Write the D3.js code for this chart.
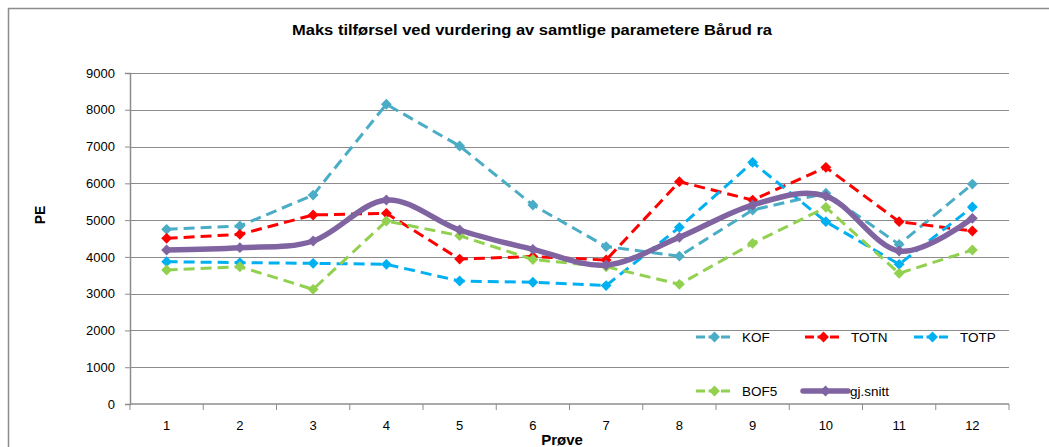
<!DOCTYPE html>
<html>
<head>
<meta charset="utf-8">
<script src="https://cdn.jsdelivr.net/npm/d3@7"></script>
<style>
  body { margin: 0; background: #fff; }
  svg { display: block; }
</style>
</head>
<body>
<div id="chart"></div>
<script>
// data
const categories = ["1","2","3","4","5","6","7","8","9","10","11","12"];
const kof   = [4750, 4840, 5680, 8150, 7015, 5410, 4280, 4020, 5275, 5730, 4340, 5980];
const totn  = [4505, 4613, 5140, 5185, 3940, 4010, 3915, 6045, 5545, 6435, 4957, 4705];
const totp  = [3870, 3843, 3825, 3798, 3344, 3310, 3220, 4803, 6570, 4957, 3798, 5357];
const bof5  = [3643, 3733, 3118, 4975, 4577, 3930, 3733, 3254, 4368, 5347, 3553, 4187];
const snitt = [4187, 4250, 4432, 5547, 4731, 4205, 3779, 4532, 5410, 5655, 4160, 5049];
const yTicks = [0, 1000, 2000, 3000, 4000, 5000, 6000, 7000, 8000, 9000];

const series = [
  { name: "KOF",      values: kof,   color: "#4BACC6", dash: "11,6", width: 3,   smooth: false },
  { name: "TOTN",     values: totn,  color: "#FF0000", dash: "11,6", width: 3,   smooth: false },
  { name: "TOTP",     values: totp,  color: "#00B0F0", dash: "11,6", width: 3,   smooth: false },
  { name: "BOF5",     values: bof5,  color: "#92D050", dash: "11,6", width: 3,   smooth: false },
  { name: "gj.snitt", values: snitt, color: "#8064A2", dash: null,   width: 5.5, smooth: true }
];

const W = 1049, H = 447;
const plot = { left: 130, right: 1009, top: 73, bottom: 404 };

const svg = d3.select("#chart").append("svg")
  .attr("width", W)
  .attr("height", H)
  .style("font-family", "'Liberation Sans', Arial, sans-serif");

// chart area border (only left + top visible in the crop)
svg.append("path")
  .attr("d", "M8.5," + H + " L8.5,8.5 L" + W + ",8.5")
  .attr("fill", "none")
  .attr("stroke", "#8c8c8c")
  .attr("stroke-width", 1.5);

const xBand = d3.scaleBand()
  .domain(categories)
  .range([plot.left, plot.right]);

const x = d => xBand(d) + xBand.bandwidth() / 2;

const y = d3.scaleLinear()
  .domain([0, 9000])
  .range([plot.bottom, plot.top]);

// gridlines
svg.append("g")
  .selectAll("line")
  .data(yTicks.filter(t => t > 0))
  .join("line")
  .attr("x1", plot.left)
  .attr("x2", plot.right)
  .attr("y1", d => Math.round(y(d)) + 0.5)
  .attr("y2", d => Math.round(y(d)) + 0.5)
  .attr("stroke", "#8c8c8c")
  .attr("stroke-width", 1);

// y axis
const yAxis = svg.append("g")
  .attr("transform", "translate(" + plot.left + ",0)")
  .call(d3.axisLeft(y).tickValues(yTicks).tickSize(5).tickPadding(10).tickFormat(d3.format("d")));
yAxis.select(".domain").attr("stroke", "#8c8c8c").attr("stroke-width", 1.5);
yAxis.selectAll(".tick line").attr("stroke", "#8c8c8c");
yAxis.selectAll("text")
  .attr("font-size", "13px")
  .attr("fill", "#000")
  .style("font-family", "'Liberation Sans', Arial, sans-serif");

// x axis: ticks at category boundaries
const boundaries = categories.map(c => xBand(c)).concat([plot.right]);
const xg = svg.append("g");
xg.append("line")
  .attr("x1", plot.left).attr("x2", plot.right)
  .attr("y1", plot.bottom).attr("y2", plot.bottom)
  .attr("stroke", "#8c8c8c").attr("stroke-width", 1.5);
xg.selectAll("line.tick")
  .data(boundaries)
  .join("line")
  .attr("class", "tick")
  .attr("x1", d => d).attr("x2", d => d)
  .attr("y1", plot.bottom).attr("y2", plot.bottom + 6)
  .attr("stroke", "#8c8c8c");
xg.selectAll("text")
  .data(categories)
  .join("text")
  .attr("x", d => x(d))
  .attr("y", 430)
  .attr("text-anchor", "middle")
  .attr("font-size", "13px")
  .text(d => d);

// titles
svg.append("text")
  .attr("x", 532)
  .attr("y", 35)
  .attr("text-anchor", "middle")
  .attr("font-size", "14px")
  .attr("font-weight", "bold")
  .attr("textLength", 480)
  .attr("lengthAdjust", "spacingAndGlyphs")
  .text("Maks tilførsel ved vurdering av samtlige parametere Bårud ra");

svg.append("text")
  .attr("transform", "translate(45,215) rotate(-90)")
  .attr("text-anchor", "middle")
  .attr("font-size", "14px")
  .attr("font-weight", "bold")
  .text("PE");

svg.append("text")
  .attr("x", 562)
  .attr("y", 445)
  .attr("text-anchor", "middle")
  .attr("font-size", "15px")
  .attr("font-weight", "bold")
  .text("Prøve");

const diamond = d3.symbol().type(d3.symbolDiamond2).size(75);

// series
series.forEach(s => {
  const line = d3.line()
    .x((d, i) => x(categories[i]))
    .y(d => y(d))
    .curve(s.smooth ? d3.curveCardinal.tension(0) : d3.curveLinear);

  svg.append("path")
    .datum(s.values)
    .attr("d", line)
    .attr("fill", "none")
    .attr("stroke", s.color)
    .attr("stroke-width", s.width)
    .attr("stroke-dasharray", s.dash)
    .attr("stroke-linejoin", "round");

  svg.append("g")
    .selectAll("path")
    .data(s.values)
    .join("path")
    .attr("transform", (d, i) => "translate(" + x(categories[i]) + "," + y(d) + ")")
    .attr("d", diamond)
    .attr("fill", s.color);
});

// legend
const legendItems = [
  { s: series[0], lx: 696, ly: 337 },
  { s: series[1], lx: 805, ly: 337 },
  { s: series[2], lx: 914, ly: 337 },
  { s: series[3], lx: 696, ly: 391 },
  { s: series[4], lx: 803, ly: 391 }
];
const lg = svg.append("g");
legendItems.forEach(it => {
  const len = it.s.smooth ? 45 : 37;
  lg.append("line")
    .attr("x1", it.lx).attr("x2", it.lx + len)
    .attr("y1", it.ly).attr("y2", it.ly)
    .attr("stroke", it.s.color)
    .attr("stroke-width", it.s.width)
    .attr("stroke-dasharray", it.s.dash ? "9,3.5" : null)
    .attr("stroke-linecap", it.s.smooth ? "round" : "butt");
  lg.append("path")
    .attr("transform", "translate(" + (it.lx + len / 2) + "," + it.ly + ")")
    .attr("d", diamond)
    .attr("fill", it.s.color);
  lg.append("text")
    .attr("x", it.lx + len + (it.s.smooth ? 2 : 9))
    .attr("y", it.ly + 5)
    .attr("font-size", "13.5px")
    .text(it.s.name);
});
</script>
</body>
</html>
